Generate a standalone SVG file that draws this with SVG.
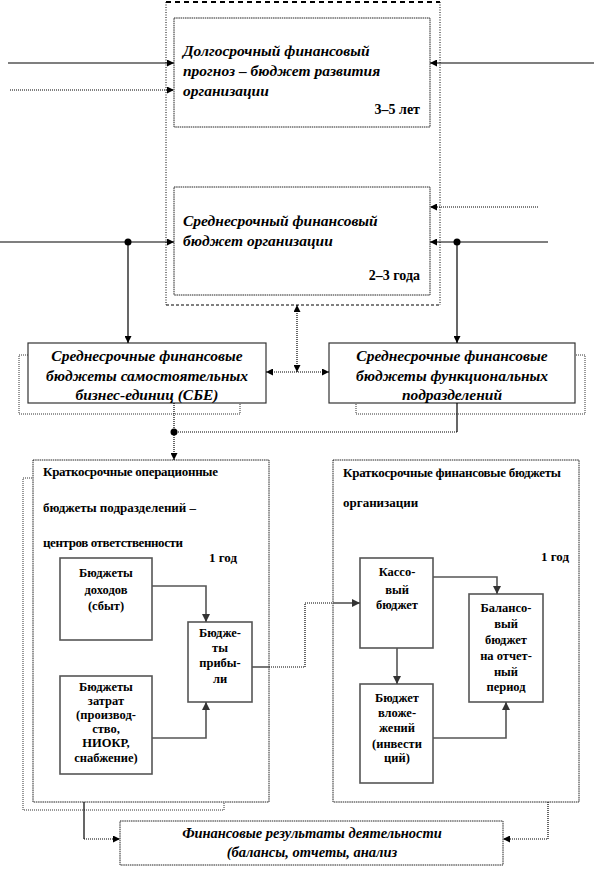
<svg xmlns="http://www.w3.org/2000/svg" width="594" height="869" viewBox="0 0 594 869">
<style>
.bi{font-family:'Liberation Serif',serif;font-style:italic;font-weight:bold;font-size:15.5px;fill:#000}
.b{font-family:'Liberation Serif',serif;font-weight:bold;font-size:13px;fill:#000}
.s{font-family:'Liberation Serif',serif;font-weight:bold;font-size:12.5px;fill:#000}
.box{fill:#fff;stroke:#222;stroke-width:1;stroke-dasharray:1.5 0.7}
.sbox{fill:#fff;stroke:#333;stroke-width:1.2}
.shadow{fill:none;stroke:#333;stroke-width:1;stroke-dasharray:1 1}
.ibox{fill:#fff;stroke:#555;stroke-width:1.6}
.ln{fill:none;stroke:#000;stroke-width:1.2}
.dt{fill:none;stroke:#000;stroke-width:1.2;stroke-dasharray:1 1}
.gl{fill:none;stroke:#555;stroke-width:1.6}
</style>
<defs>
<marker id="ah" viewBox="0 0 10 10" refX="10" refY="5" markerWidth="7" markerHeight="7" markerUnits="userSpaceOnUse" orient="auto-start-reverse">
<path d="M0,0 L10,5 L0,10 z" fill="#000"/>
</marker>
<marker id="ahg" viewBox="0 0 10 10" refX="10" refY="5" markerWidth="8" markerHeight="8" markerUnits="userSpaceOnUse" orient="auto">
<path d="M0,0 L10,5 L0,10 z" fill="#333"/>
</marker>
</defs>
<rect width="594" height="869" fill="#fff"/>

<g id="outer-frame">
<line x1="166" y1="2" x2="440" y2="2" stroke="#000" stroke-width="2" stroke-dasharray="5 4"/>
<line x1="166" y1="305" x2="440" y2="305" stroke="#000" stroke-width="1" stroke-dasharray="3 2"/>
<line x1="166" y1="2" x2="166" y2="305" stroke="#000" stroke-width="1" stroke-dasharray="1 1.5"/>
<line x1="440" y1="2" x2="440" y2="305" stroke="#000" stroke-width="1" stroke-dasharray="1 1.5"/>
</g>

<g id="long-term">
<rect class="box" x="174" y="18" width="256" height="109"/>
<text class="bi" x="183" y="56">Долгосрочный финансовый</text>
<text class="bi" x="183" y="76">прогноз – бюджет развития</text>
<text class="bi" x="183" y="96">организации</text>
<text class="b" x="420" y="114" text-anchor="end" style="font-size:14px">3–5 лет</text>
</g>

<g id="mid-term">
<rect class="box" x="174" y="187" width="256" height="108"/>
<text class="bi" x="183" y="226">Среднесрочный финансовый</text>
<text class="bi" x="183" y="246">бюджет организации</text>
<text class="b" x="420" y="280" text-anchor="end" style="font-size:14px">2–3 года</text>
</g>

<g id="sbe">
<rect class="shadow" x="19" y="355" width="221" height="59"/>
<rect class="sbox" x="28" y="343" width="238" height="60"/>
<text class="bi" x="147" y="361" text-anchor="middle">Среднесрочные финансовые</text>
<text class="bi" x="147" y="381" text-anchor="middle">бюджеты самостоятельных</text>
<text class="bi" x="147" y="400" text-anchor="middle">бизнес-единиц (СБЕ)</text>
</g>

<g id="func">
<rect class="shadow" x="356" y="355" width="229" height="59"/>
<rect class="sbox" x="329" y="343" width="246" height="60"/>
<text class="bi" x="452" y="361" text-anchor="middle">Среднесрочные финансовые</text>
<text class="bi" x="452" y="381" text-anchor="middle">бюджеты функциональных</text>
<text class="bi" x="452" y="400" text-anchor="middle">подразделений</text>
</g>

<g id="operational">
<rect class="shadow" x="23" y="478" width="201" height="332"/>
<rect class="box" x="33" y="460" width="236" height="342"/>
<text class="b" x="43" y="476" textLength="175">Краткосрочные операционные</text>
<text class="b" x="43" y="512" textLength="153">бюджеты подразделений –</text>
<text class="b" x="43" y="547" textLength="140">центров ответственности</text>
<text class="b" x="237" y="562" text-anchor="end">1 год</text>
</g>

<g id="income">
<rect class="ibox" x="60" y="558" width="92" height="82"/>
<text class="s" x="106" y="577" text-anchor="middle">Бюджеты</text>
<text class="s" x="106" y="594" text-anchor="middle">доходов</text>
<text class="s" x="106" y="610" text-anchor="middle">(сбыт)</text>
</g>

<g id="profit">
<rect class="ibox" x="188" y="622" width="64" height="80"/>
<text class="s" x="220" y="637" text-anchor="middle">Бюдже-</text>
<text class="s" x="220" y="652" text-anchor="middle">ты</text>
<text class="s" x="220" y="667" text-anchor="middle">прибы-</text>
<text class="s" x="220" y="683" text-anchor="middle">ли</text>
</g>

<g id="costs">
<rect class="ibox" x="60" y="676" width="92" height="98"/>
<text class="s" x="106" y="691" text-anchor="middle">Бюджеты</text>
<text class="s" x="106" y="705" text-anchor="middle">затрат</text>
<text class="s" x="106" y="719" text-anchor="middle">(производ-</text>
<text class="s" x="106" y="733" text-anchor="middle">ство,</text>
<text class="s" x="106" y="747" text-anchor="middle">НИОКР,</text>
<text class="s" x="106" y="762" text-anchor="middle">снабжение)</text>
</g>

<g id="financial-short">
<rect class="box" x="333" y="460" width="246" height="342"/>
<text class="b" x="343" y="477" textLength="218">Краткосрочные финансовые бюджеты</text>
<text class="b" x="343" y="507">организации</text>
<text class="b" x="569" y="561" text-anchor="end">1 год</text>
</g>

<g id="cash">
<rect class="ibox" x="360" y="558" width="73" height="90"/>
<text class="s" x="397" y="576" text-anchor="middle">Кассо-</text>
<text class="s" x="397" y="594" text-anchor="middle">вый</text>
<text class="s" x="397" y="609" text-anchor="middle">бюджет</text>
</g>

<g id="balance">
<rect class="ibox" x="469" y="594" width="74" height="108"/>
<text class="s" x="506" y="612" text-anchor="middle">Балансо-</text>
<text class="s" x="506" y="628" text-anchor="middle">вый</text>
<text class="s" x="506" y="644" text-anchor="middle">бюджет</text>
<text class="s" x="506" y="660" text-anchor="middle">на отчет-</text>
<text class="s" x="506" y="676" text-anchor="middle">ный</text>
<text class="s" x="506" y="691" text-anchor="middle">период</text>
</g>

<g id="invest">
<rect class="ibox" x="360" y="684" width="73" height="99"/>
<text class="s" x="397" y="702" text-anchor="middle">Бюджет</text>
<text class="s" x="397" y="717" text-anchor="middle">вложе-</text>
<text class="s" x="397" y="732" text-anchor="middle">жений</text>
<text class="s" x="397" y="748" text-anchor="middle">(инвести</text>
<text class="s" x="397" y="762" text-anchor="middle">ций)</text>
</g>

<g id="results">
<rect class="box" x="120" y="821" width="383" height="44"/>
<text class="bi" x="312" y="838" text-anchor="middle" style="font-size:14.5px">Финансовые результаты деятельности</text>
<text class="bi" x="312" y="857" text-anchor="middle" style="font-size:14.5px">(балансы, отчеты, анализ</text>
</g>

<g id="connectors">
<line class="ln" x1="8" y1="63" x2="174" y2="63" marker-end="url(#ah)"/>
<line class="dt" x1="10" y1="90" x2="174" y2="90" marker-end="url(#ah)"/>
<line class="ln" x1="594" y1="63" x2="430" y2="63" marker-end="url(#ah)"/>
<line class="dt" x1="538" y1="207" x2="430" y2="207" marker-end="url(#ah)"/>
<line class="ln" x1="0" y1="242" x2="174" y2="242" marker-end="url(#ah)"/>
<line class="ln" x1="548" y1="242" x2="430" y2="242" marker-end="url(#ah)"/>
<circle cx="128" cy="242" r="3.5" fill="#000"/>
<circle cx="457" cy="242" r="3.5" fill="#000"/>
<line class="ln" x1="128" y1="242" x2="128" y2="343" marker-end="url(#ah)"/>
<line class="ln" x1="457" y1="242" x2="457" y2="343" marker-end="url(#ah)"/>
<line class="dt" x1="297" y1="372" x2="297" y2="305" marker-start="url(#ah)" marker-end="url(#ah)"/>
<line class="dt" x1="266" y1="372" x2="329" y2="372" marker-start="url(#ah)" marker-end="url(#ah)"/>
<line class="dt" x1="174" y1="403" x2="174" y2="460" marker-end="url(#ah)"/>
<line class="ln" x1="457" y1="403" x2="457" y2="432"/>
<line class="dt" x1="457" y1="432" x2="174" y2="432"/>
<circle cx="174" cy="432" r="3.5" fill="#000"/>
<polyline class="gl" points="152,586 206,586 206,622" marker-end="url(#ahg)"/>
<polyline class="gl" points="152,738 206,738 206,702" marker-end="url(#ahg)"/>
<line class="gl" x1="252" y1="667" x2="269" y2="667"/>
<polyline class="dt" points="269,667 305,667 305,603 333,603"/>
<line class="gl" x1="333" y1="603" x2="360" y2="603" marker-end="url(#ahg)"/>
<polyline class="gl" points="433,577 497,577 497,594" marker-end="url(#ahg)"/>
<line class="gl" x1="397" y1="648" x2="397" y2="684" marker-end="url(#ahg)"/>
<polyline class="gl" points="433,738 506,738 506,702" marker-end="url(#ahg)"/>
<line class="ln" x1="84" y1="802" x2="84" y2="839"/>
<line class="dt" x1="84" y1="839" x2="120" y2="839" marker-end="url(#ah)"/>
<polyline class="dt" points="548,802 548,839 503,839" marker-end="url(#ah)"/>
</g>
</svg>
